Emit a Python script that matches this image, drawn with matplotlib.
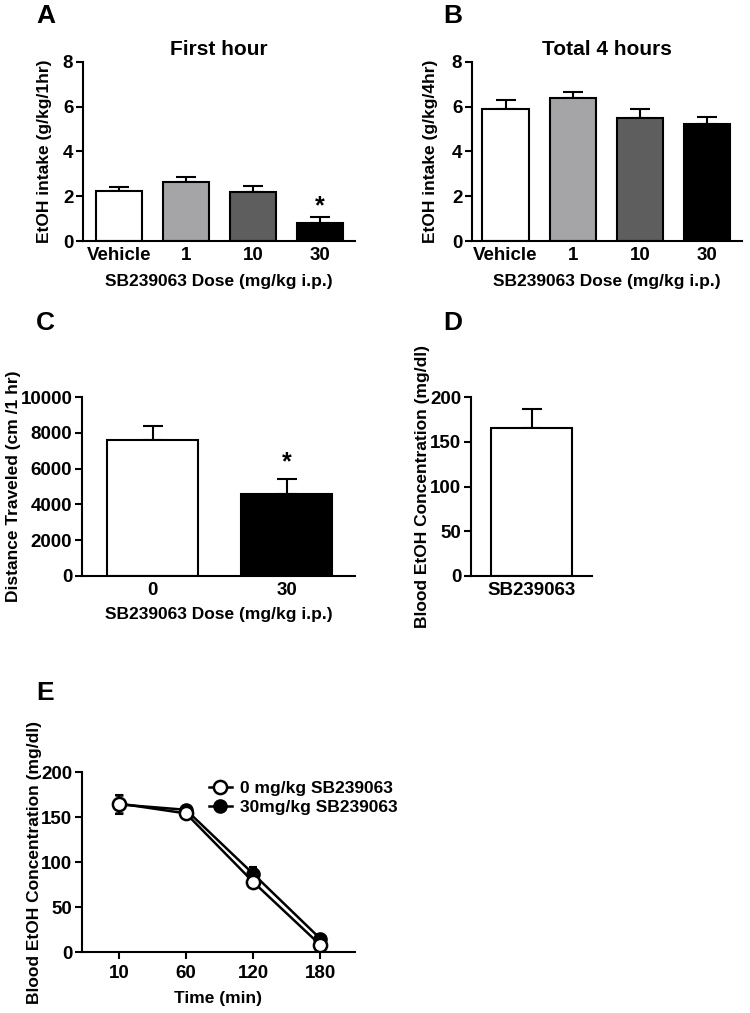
import matplotlib.pyplot as plt
from matplotlib.lines import Line2D
import numpy as np

plt.rcParams['font.family'] = ['Liberation Sans', 'DejaVu Sans']
plt.rcParams['font.weight'] = 'bold'
plt.rcParams['axes.labelweight'] = 'bold'
plt.rcParams['axes.linewidth'] = 1.5

# panel A / B: ethanol intake
doses = ['Vehicle', '1', '10', '30']
bar_colors = ['white', '#a5a5a8', '#5e5e5e', 'black']
first_hour = [2.25, 2.63, 2.17, 0.82]
first_hour_sem = [0.17, 0.24, 0.28, 0.26]
total_4h = [5.92, 6.37, 5.51, 5.25]
total_4h_sem = [0.37, 0.30, 0.41, 0.30]

# panel C: locomotor
loco_doses = ['0', '30']
distance = [7600, 4580]
distance_sem = [780, 820]

# panel D: blood EtOH
bec_label = ['SB239063']
bec = [165]
bec_sem = [22]

# panel E: time course
times = ['10', '60', '120', '180']
bec_0 = [165, 154, 78, 8]
bec_0_sem = [10, 4, 6, 4]
bec_30 = [164, 158, 87, 15]
bec_30_sem = [11, 3, 8, 5]

W, H = 750, 1013
TICK_FS = 13.5
LABEL_FS = 12.5
fig = plt.figure(figsize=(W / 100, H / 100), dpi=100)


def px_axes(x0, x1, y0, y1):
    ax = fig.add_axes([x0 / W, 1 - y1 / H, (x1 - x0) / W, (y1 - y0) / H])
    ax._px = (x0, x1, y0, y1)
    return ax


def style(ax, ylab_x, xlab_y=None, xticks=False):
    for s in ['top', 'right']:
        ax.spines[s].set_visible(False)
    ax.tick_params(axis='y', direction='out', length=5, width=1.5,
                   labelsize=TICK_FS, pad=2)
    ax.tick_params(axis='x', length=5 if xticks else 0, width=1.5,
                   labelsize=TICK_FS, pad=4)
    x0, x1, y0, y1 = ax._px
    ax.yaxis.set_label_coords((ylab_x - x0) / (x1 - x0), 0.5)
    if xlab_y is not None:
        ax.xaxis.set_label_coords(0.5, (y1 - xlab_y) / (y1 - y0))


def bars(ax, labels, vals, errs, colors, width):
    x = np.arange(len(vals))
    ax.bar(x, vals, width=width, color=colors, edgecolor='black',
           linewidth=1.5, zorder=2)
    ax.errorbar(x, vals, yerr=[np.zeros(len(errs)), errs], fmt='none',
                ecolor='black', elinewidth=1.5, capsize=7.5, capthick=1.5,
                zorder=1)
    ax.set_xticks(x)
    ax.set_xticklabels(labels)
    return x


def panel_letter(x, y, s):
    fig.text(x / W, 1 - y / H, s, fontsize=19, fontweight='bold',
             va='center', ha='left')


# A
ax = px_axes(83, 355, 62, 241)
x = bars(ax, doses, first_hour, first_hour_sem, bar_colors, 0.69)
ax.set_xlim(-0.54, 3.52)
ax.set_ylim(0, 8)
ax.set_yticks([0, 2, 4, 6, 8])
ax.set_title('First hour', fontsize=15, fontweight='bold', pad=5)
ax.set_ylabel('EtOH intake (g/kg/1hr)', fontsize=LABEL_FS, va='center')
ax.set_xlabel('SB239063 Dose (mg/kg i.p.)', fontsize=LABEL_FS, va='center')
ax.text(x[3], first_hour[3] + first_hour_sem[3] + 0.45, '*', ha='center',
        va='center', fontsize=18, fontweight='bold')
style(ax, 45, 281)
panel_letter(36, 16, 'A')

# B
ax = px_axes(472, 742, 62, 241)
bars(ax, doses, total_4h, total_4h_sem, bar_colors, 0.69)
ax.set_xlim(-0.5, 3.52)
ax.set_ylim(0, 8)
ax.set_yticks([0, 2, 4, 6, 8])
ax.set_title('Total 4 hours', fontsize=15, fontweight='bold', pad=5)
ax.set_ylabel('EtOH intake (g/kg/4hr)', fontsize=LABEL_FS, va='center')
ax.set_xlabel('SB239063 Dose (mg/kg i.p.)', fontsize=LABEL_FS, va='center')
style(ax, 430, 281)
panel_letter(443, 16, 'B')

# C
ax = px_axes(82, 355, 397, 576)
x = bars(ax, loco_doses, distance, distance_sem, ['white', 'black'], 0.68)
ax.set_xlim(-0.53, 1.51)
ax.set_ylim(0, 10000)
ax.set_yticks(np.arange(0, 10001, 2000))
ax.set_ylabel('Distance Traveled (cm /1 hr)', fontsize=LABEL_FS, va='center')
ax.set_xlabel('SB239063 Dose (mg/kg i.p.)', fontsize=LABEL_FS, va='center')
ax.text(x[1], distance[1] + distance_sem[1] + 950, '*', ha='center',
        va='center', fontsize=18, fontweight='bold')
style(ax, 14, 615)
panel_letter(36, 323, 'C')

# D
ax = px_axes(471, 592, 397, 576)
bars(ax, bec_label, bec, bec_sem, ['white'], 0.67)
ax.set_xlim(-0.5, 0.5)
ax.set_ylim(0, 200)
ax.set_yticks(np.arange(0, 201, 50))
ax.set_ylabel('Blood EtOH Concentration (mg/dl)', fontsize=LABEL_FS,
              va='center')
style(ax, 422)
panel_letter(443, 323, 'D')

# E
ax = px_axes(82, 355, 772, 952)
xe = np.arange(len(times))
ax.errorbar(xe, bec_30, yerr=bec_30_sem, color='black', marker='o',
            markersize=9.5, markerfacecolor='black', markeredgecolor='black',
            linewidth=1.8, capsize=3, capthick=1.5, elinewidth=1.5, zorder=2)
ax.errorbar(xe, bec_0, yerr=bec_0_sem, color='black', marker='o',
            markersize=9.5, markerfacecolor='white', markeredgecolor='black',
            markeredgewidth=1.8, linewidth=1.8, capsize=3, capthick=1.5,
            elinewidth=1.5, zorder=3)
ax.set_xticks(xe)
ax.set_xticklabels(times)
ax.set_xlim(-0.55, 3.52)
ax.set_ylim(0, 200)
ax.set_yticks(np.arange(0, 201, 50))
ax.set_ylabel('Blood EtOH Concentration (mg/dl)', fontsize=LABEL_FS,
              va='center')
ax.set_xlabel('Time (min)', fontsize=LABEL_FS, va='center')
handles = [
    Line2D([], [], color='black', lw=1.8, marker='o', markersize=9.5,
           markerfacecolor='white', markeredgewidth=1.8),
    Line2D([], [], color='black', lw=1.8, marker='o', markersize=9.5,
           markerfacecolor='black'),
]
ax.legend(handles, ['0 mg/kg SB239063', '30mg/kg SB239063'],
          loc='upper left', bbox_to_anchor=(0.44, 0.99), frameon=False,
          fontsize=LABEL_FS, handlelength=1.3, handletextpad=0.5,
          labelspacing=0.25, borderaxespad=0)
style(ax, 35, 998, xticks=True)
panel_letter(36, 693, 'E')

fig.savefig('out.png', dpi=100)
